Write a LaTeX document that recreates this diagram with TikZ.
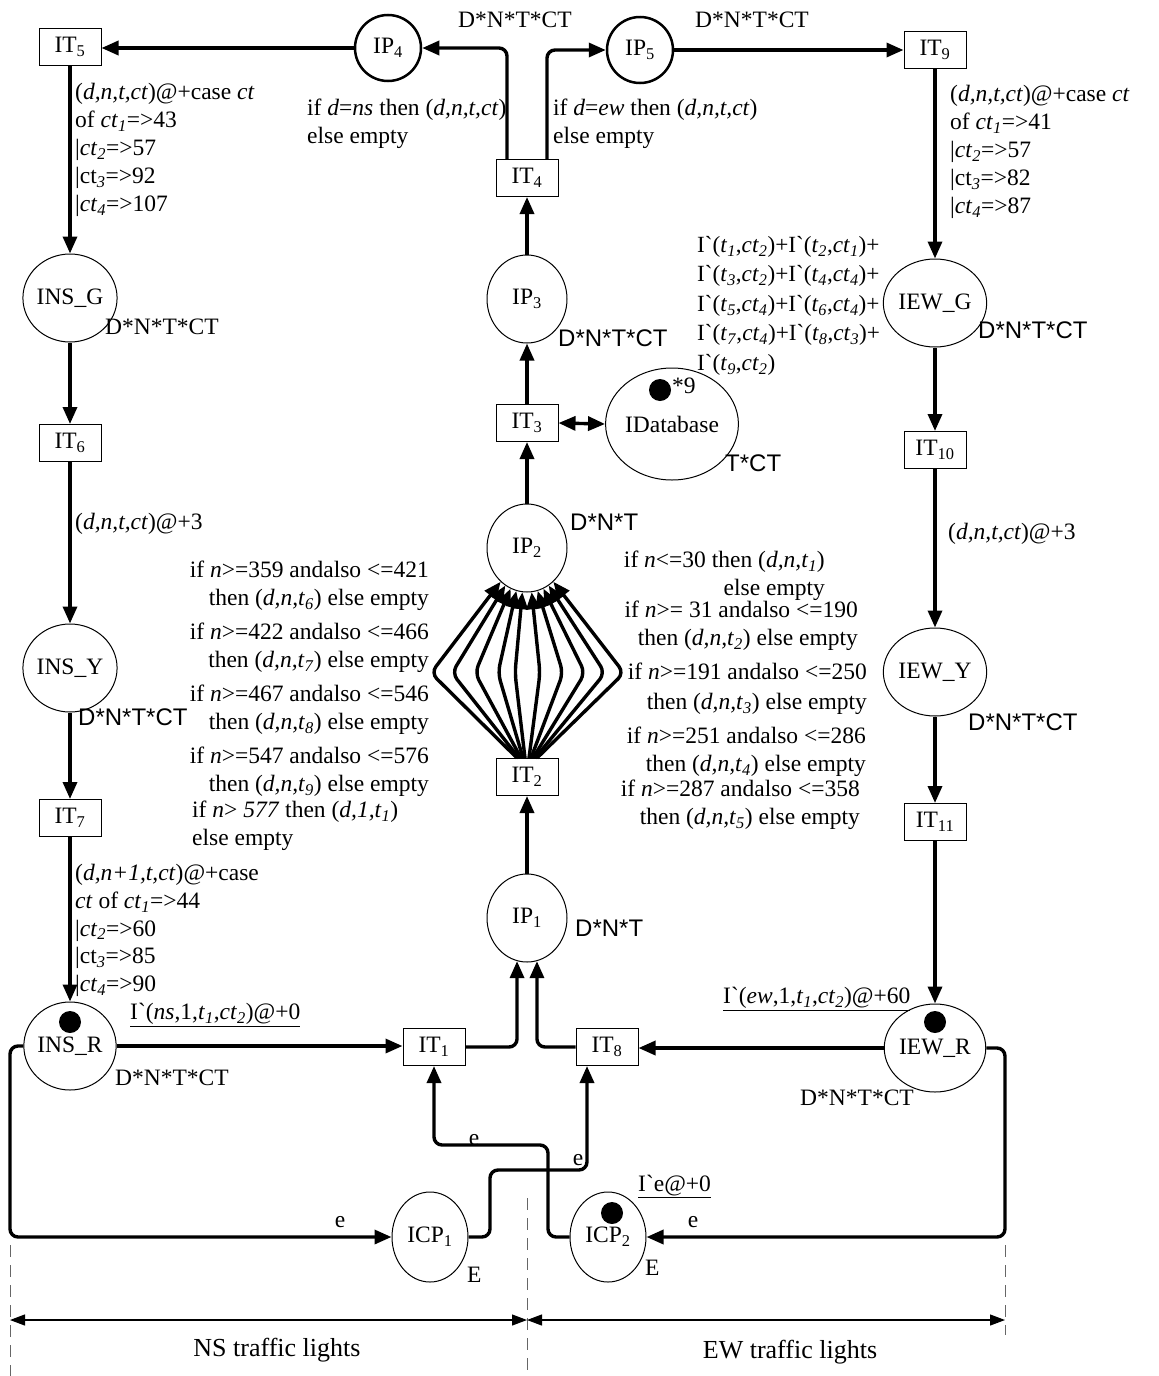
\documentclass[tikz,border=0pt]{standalone}
\usepackage{fontspec}
\setmainfont{Liberation Serif}[Ligatures=TeXOff]
\setsansfont{Liberation Sans}
\usetikzlibrary{shapes.geometric,arrows.meta,calc}
\newcommand\sbs[1]{\textsubscript{#1}}
\newcommand\ii[1]{\textit{#1}}
\begin{document}
\begin{tikzpicture}[x=1pt,y=-1pt,
  every node/.style={font=\fontsize{23.5}{28}\selectfont},
  place/.style={ellipse,draw,line width=1pt,minimum width=80pt,minimum height=88pt,inner sep=0pt},
  bplace/.style={ellipse,draw,line width=2.5pt,minimum width=66pt,minimum height=66pt,inner sep=0pt},
  trans/.style={rectangle,draw,line width=1pt,minimum width=62pt,minimum height=37pt,inner sep=0pt},
  arc/.style={line width=3.4pt,-{Triangle[length=17pt,width=14pt]},rounded corners=8pt},
  darc/.style={line width=3.4pt,{Triangle[length=17pt,width=14pt]}-{Triangle[length=17pt,width=14pt]}},
  token/.style={circle,fill=black,minimum size=22pt,inner sep=0pt},
  ctype/.style={font=\sffamily\fontsize{24}{28}\selectfont,inner sep=0pt,anchor=west},
  stype/.style={font=\fontsize{23.5}{28}\selectfont,inner sep=0pt,anchor=west},
  lbl/.style={inner sep=0pt,align=left,anchor=north west},
  rlbl/.style={inner sep=0pt,align=right,anchor=north east},
  elbl/.style={inner sep=0pt},
  dashline/.style={line width=1pt,gray!80!black,dash pattern=on 12pt off 8pt},
  dim/.style={line width=1.2pt,{Triangle[length=15pt,width=11pt]}-{Triangle[length=15pt,width=11pt]}}
]
\useasboundingbox (0,0) rectangle (1159,1376);

% ---------- nodes ----------
\node[trans] (IT5) at (70,47) {IT\sbs{5}};
\node[bplace] (IP4) at (388,48) {IP\sbs{4}};
\node[bplace] (IP5) at (640,50) {IP\sbs{5}};
\node[trans] (IT9) at (935,50) {IT\sbs{9}};
\node[trans] (IT4) at (527,178) {IT\sbs{4}};

\node[place] (INSG) at (70,298) {INS\_G};
\node[trans] (IT6) at (70,443) {IT\sbs{6}};
\node[place] (INSY) at (70,668) {INS\_Y};
\node[trans] (IT7) at (70,818) {IT\sbs{7}};
\node[place] (INSR) at (70,1046) {INS\_R};

\node[place] (IP3) at (527,299) {IP\sbs{3}};
\node[trans] (IT3) at (527,423) {IT\sbs{3}};
\node[ellipse,draw,line width=1pt,minimum width=100pt,minimum height=112pt,inner sep=0pt] (IDB) at (672,424) {IDatabase};
\node[place] (IP2) at (527,548) {IP\sbs{2}};
\node[trans] (IT2) at (527,777) {IT\sbs{2}};
\node[place] (IP1) at (527,918) {IP\sbs{1}};

\node[place] (IEWG) at (935,303) {IEW\_G};
\node[trans] (IT10) at (935,450) {IT\sbs{10}};
\node[place] (IEWY) at (935,672) {IEW\_Y};
\node[trans] (IT11) at (935,822) {IT\sbs{11}};
\node[place] (IEWR) at (935,1048) {IEW\_R};

\node[trans] (IT1) at (434,1047) {IT\sbs{1}};
\node[trans] (IT8) at (607,1047) {IT\sbs{8}};
\node[place,minimum width=76pt,minimum height=90pt] (ICP1) at (430,1237) {ICP\sbs{1}};
\node[place,minimum width=76pt,minimum height=90pt] (ICP2) at (608,1237) {ICP\sbs{2}};

% tokens
\node[token] (tk1) at (70,1022) {};
\node[token] (tk2) at (935,1022) {};
\node[token] (tk3) at (612,1213) {};
\node[token] (tk4) at (660,390) {};
\node[inner sep=0pt,anchor=west] (tk4n) at (672,386) {*9};

% ---------- arcs ----------
\draw[arc] (IP4.west) -- (IP4.west -| IT5.east);
\draw[arc] ($(IT4.north)+(-20,0)$) |- (IP4.east);
\draw[arc] ($(IT4.north)+(20,0)$) |- (IP5.west);
\draw[arc] (IP5.east) -- (IT9.west);

\draw[arc] (IT5.south) -- (INSG.north);
\draw[arc] (INSG.south) -- (IT6.north);
\draw[arc] (IT6.south) -- (INSY.north);
\draw[arc] (INSY.south) -- (IT7.north);
\draw[arc] (IT7.south) -- (INSR.north);

\draw[arc] (IT9.south) -- (IEWG.north);
\draw[arc] (IEWG.south) -- (IT10.north);
\draw[arc] (IT10.south) -- (IEWY.north);
\draw[arc] (IEWY.south) -- (IT11.north);
\draw[arc] (IT11.south) -- (IEWR.north);

\draw[arc] (IP3.north) -- (IT4.south);
\draw[arc] (IT3.north) -- (IP3.south);
\draw[arc] (IP2.north) -- (IT3.south);
\draw[arc] (IP1.north) -- (IT2.south);
\draw[darc] (IT3.east) -- (IDB.west);

% fan IT2 -> IP2
\foreach \s/\bx/\a in {-10/431/232,-8/452/240,-6/475/248,-4/498/256,-2/515/264,2/540/276,4/563/284,6/585/292,8/605/300,10/624/308}{
  \draw[arc] ($(IT2.north)+(\s,0)$) -- (\bx,673) -- (IP2.\a);
}

\draw[arc] (INSR.east) -- (INSR.east -| IT1.west);
\draw[arc] (IEWR.west) -- (IEWR.west -| IT8.east);
\draw[arc] (IT1.east) -| (IP1.257);
\draw[arc] (IT8.west) -| (IP1.283);

\coordinate (k0) at (10,1237);
\coordinate (k1) at (490,1170);
\coordinate (k2) at (548,1145);
\coordinate (k3) at (1005,1237);
\draw[arc] (INSR.west) -| (k0) -- (ICP1.west);
\draw[arc] (ICP1.east) -| (k1) -| ($(IT8.south)+(-20,0)$);
\draw[arc] (ICP2.west) -| (k2) -| (IT1.south);
\draw[arc] (IEWR.east) -| (k3) -- (ICP2.east);

% ---------- colour sets ----------
\node[stype] (c1) at (458,20) {D*N*T*CT};
\node[stype] (c2) at (695,20) {D*N*T*CT};
\node[stype] (c3) at (105,327) {D*N*T*CT};
\node[ctype] (c4) at (558,338) {D*N*T*CT};
\node[ctype] (c5) at (978,330) {D*N*T*CT};
\node[ctype] (c6) at (78,717) {D*N*T*CT};
\node[ctype] (c7) at (968,722) {D*N*T*CT};
\node[stype] (c8) at (115,1078) {D*N*T*CT};
\node[stype] (c9) at (800,1098) {D*N*T*CT};
\node[ctype] (c10) at (570,522) {D*N*T};
\node[ctype] (c11) at (575,928) {D*N*T};
\node[ctype] (c12) at (725,463) {T*CT};
\node[stype] (c13) at (467,1275) {E};
\node[stype] (c14) at (645,1268) {E};

% ---------- inscriptions ----------
\node[lbl] (l1) at (75,83) {(\ii{d,n,t,ct})@+case \ii{ct}\\of \ii{ct}\sbs{\ii{1}}=>43\\|\ii{ct}\sbs{\ii{2}}=>57\\|ct\sbs{\ii{3}}=>92\\|\ii{ct}\sbs{\ii{4}}=>107};
\node[lbl] (l2) at (307,99) {if \ii{d}=\ii{ns} then (\ii{d,n,t,ct})\\else empty};
\node[lbl] (l3) at (553,99) {if \ii{d}=\ii{ew} then (\ii{d,n,t,ct})\\else empty};
\node[lbl] (l4) at (950,85) {(\ii{d,n,t,ct})@+case \ii{ct}\\of \ii{ct}\sbs{\ii{1}}=>41\\|\ii{ct}\sbs{\ii{2}}=>57\\|ct\sbs{\ii{3}}=>82\\|\ii{ct}\sbs{\ii{4}}=>87};
\node[lbl,font=\fontsize{23.2}{29.5}\selectfont] (l5) at (697,236) {I`(\ii{t}\sbs{\ii{1}},\ii{ct}\sbs{\ii{2}})+I`(\ii{t}\sbs{\ii{2}},\ii{ct}\sbs{\ii{1}})+\\I`(\ii{t}\sbs{\ii{3}},\ii{ct}\sbs{\ii{2}})+I`(\ii{t}\sbs{\ii{4}},\ii{ct}\sbs{\ii{4}})+\\I`(\ii{t}\sbs{\ii{5}},\ii{ct}\sbs{\ii{4}})+I`(\ii{t}\sbs{\ii{6}},\ii{ct}\sbs{\ii{4}})+\\I`(\ii{t}\sbs{\ii{7}},\ii{ct}\sbs{\ii{4}})+I`(\ii{t}\sbs{\ii{8}},\ii{ct}\sbs{\ii{3}})+\\I`(\ii{t}\sbs{\ii{9}},\ii{ct}\sbs{\ii{2}})};
\node[lbl] (l6) at (75,513) {(\ii{d,n,t,ct})@+3};
\node[lbl] (l7) at (948,523) {(\ii{d,n,t,ct})@+3};

\node[rlbl] (f1) at (429,561) {if \ii{n}>=359 andalso <=421\\then (\ii{d,n,t}\sbs{\ii{6}}) else empty};
\node[rlbl] (f2) at (429,623) {if \ii{n}>=422 andalso <=466\\then (\ii{d,n,t}\sbs{\ii{7}}) else empty};
\node[rlbl] (f3) at (429,685) {if \ii{n}>=467 andalso <=546\\then (\ii{d,n,t}\sbs{\ii{8}}) else empty};
\node[rlbl] (f4) at (429,747) {if \ii{n}>=547 andalso <=576\\then (\ii{d,n,t}\sbs{\ii{9}}) else empty};
\node[lbl] (f5) at (192,801) {if \ii{n}> \ii{577} then (\ii{d,1,t}\sbs{\ii{1}})\\else empty};

\node[rlbl] (g1) at (825,551) {if \ii{n}<=30 then (\ii{d,n,t}\sbs{\ii{1}})\\else empty};
\node[rlbl] (g2) at (858,601) {if \ii{n}>= 31 andalso <=190\\then (\ii{d,n,t}\sbs{\ii{2}}) else empty};
\node[rlbl,font=\fontsize{23.5}{30}\selectfont] (g3) at (867,663) {if \ii{n}>=191 andalso <=250\\then (\ii{d,n,t}\sbs{\ii{3}}) else empty};
\node[rlbl] (g4) at (866,727) {if \ii{n}>=251 andalso <=286\\then (\ii{d,n,t}\sbs{\ii{4}}) else empty};
\node[rlbl] (g5) at (860,780) {if \ii{n}>=287 andalso <=358\\then (\ii{d,n,t}\sbs{\ii{5}}) else empty};

\node[lbl,font=\fontsize{23.5}{27.75}\selectfont] (l8) at (75,864) {(\ii{d,n+1,t,ct})@+case\\\ii{ct} of \ii{ct}\sbs{\ii{1}}=>44\\|\ii{ct}\sbs{\ii{2}}=>60\\|ct\sbs{\ii{3}}=>85\\|\ii{ct}\sbs{\ii{4}}=>90};

\node[lbl] (m1) at (130,1003) {\underline{I`(\ii{ns},1,\ii{t}\sbs{\ii{1}},\ii{ct}\sbs{\ii{2}})@+0}};
\node[lbl] (m2) at (723,987) {\underline{I`(\ii{ew},1,\ii{t}\sbs{\ii{1}},\ii{ct}\sbs{\ii{2}})@+60}};
\node[lbl] (m3) at (638,1175) {\underline{I`e@+0}};

\node[elbl] (e1) at (340,1222) {e};
\node[elbl] (e2) at (474,1140) {e};
\node[elbl] (e3) at (578,1160) {e};
\node[elbl] (e4) at (693,1222) {e};

% ---------- region markers ----------
\draw[dashline] (10,1245) -- (10,1376);
\draw[dashline] (527,1198) -- (527,1376);
\draw[dashline] (1005,1245) -- (1005,1335);
\coordinate (dL) at (10,1320);
\coordinate (dM) at (527,1320);
\coordinate (dR) at (1005,1320);
\draw[dim] (dL) -- (dM);
\draw[dim] (dM) -- (dR);
\node[elbl,font=\fontsize{26}{30}\selectfont] (ns) at (277,1350) {NS traffic lights};
\node[elbl,font=\fontsize{26}{30}\selectfont] (ew) at (790,1352) {EW traffic lights};
\end{tikzpicture}
\end{document}
